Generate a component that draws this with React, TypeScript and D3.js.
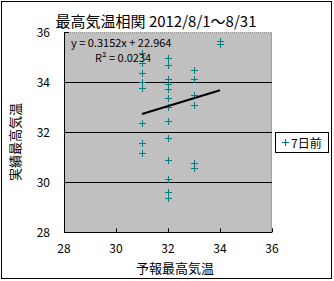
import React from "react";
import * as d3 from "d3";

const title = "最高気温相関 2012/8/1～8/31";
const xTitle = "予報最高気温";
const yTitle = "実績最高気温";
const seriesName = "7日前";
const forecast = [
  31, 31, 31, 31, 31, 31, 31, 31,
  32, 32, 32, 32, 32, 32, 32, 32, 32, 32, 32, 32, 32,
  33, 33, 33, 33, 33, 33,
  34, 34,
];
const actual = [
  35.16, 34.78, 34.38, 34.01, 33.78, 32.36, 31.56, 31.16,
  34.98, 34.68, 34.15, 33.94, 33.72, 33.36, 33.02, 32.47, 31.76, 30.88, 30.15, 29.61, 29.39,
  34.49, 34.13, 33.49, 33.09, 30.78, 30.56,
  35.66, 35.53,
];
const slope = 0.3152;
const intercept = 22.964;
const r2 = 0.0234;
const xTicks = [28, 30, 32, 34, 36];
const yTicks = [28, 30, 32, 34, 36];
const gridValues = [30, 32, 34];

const W = 334;
const H = 281;
const FONT = "'Noto Sans CJK JP', 'DejaVu Sans', sans-serif";
const TEAL = "#008080";

export default function App() {
  const x = d3.scaleLinear().domain([28, 36]).range([64, 272]);
  const y = d3.scaleLinear().domain([28, 36]).range([232.3, 32.3]);
  const [x0, x1] = x.range();
  const [yb, yt] = y.range();
  const xMin = d3.min(forecast) as number;
  const xMax = d3.max(forecast) as number;
  const trend = d3.line<number>().x((v) => x(v)).y((v) => y(slope * v + intercept));
  const cross = (cx: number, cy: number) =>
    `M${cx - 3.5},${cy}H${cx + 3.5}M${cx},${cy - 3.5}V${cy + 3.5}`;

  return (
    <svg
      width={W}
      height={H}
      style={{ position: "fixed", left: 0, top: 0, background: "#fff" }}
      fontFamily={FONT}
    >
      <rect x={1.5} y={1.5} width={330} height={277} fill="#fff" stroke="#000" strokeWidth={1} />
      <text x={156} y={27} textAnchor="middle" fontSize={15} fill="#000">
        {title}
      </text>
      {/* plot area */}
      <rect x={x0} y={yt} width={x1 - x0} height={yb - yt} fill="#c0c0c0" />
      <path
        d={`M${x0},${yt + 0.5}H${x1 - 0.5}V${yb}`}
        fill="none"
        stroke="#808080"
        strokeDasharray="1,1"
      />
      {gridValues.map((v) => (
        <line key={"g" + v} x1={x0} x2={x1} y1={Math.round(y(v)) + 0.5} y2={Math.round(y(v)) + 0.5} stroke="#000" />
      ))}
      <line x1={x0 + 0.5} x2={x0 + 0.5} y1={yt} y2={yb} stroke="#000" />
      <line x1={x0} x2={x1} y1={Math.round(yb) + 0.5} y2={Math.round(yb) + 0.5} stroke="#000" />
      {xTicks.map((v) => (
        <g key={"xt" + v}>
          <line x1={Math.round(x(v)) + 0.5} x2={Math.round(x(v)) + 0.5} y1={yb - 4} y2={yb} stroke="#000" />
          <text x={x(v)} y={253} textAnchor="middle" fontSize={12} fill="#000">
            {v}
          </text>
        </g>
      ))}
      {yTicks.map((v) => (
        <g key={"yt" + v}>
          <line x1={x0} x2={x0 + 5} y1={Math.round(y(v)) + 0.5} y2={Math.round(y(v)) + 0.5} stroke="#000" />
          <text x={50} y={y(v) + 4.5} textAnchor="end" fontSize={12} fill="#000">
            {v}
          </text>
        </g>
      ))}
      {/* points */}
      {forecast.map((f, i) => (
        <path key={"p" + i} d={cross(Math.round(x(f)) + 0.5, Math.round(y(actual[i])) + 0.5)} stroke={TEAL} strokeWidth={1} fill="none" />
      ))}
      {/* trendline */}
      <path d={trend([xMin, xMax]) ?? ""} stroke="#000" strokeWidth={2} fill="none" />
      <text x={71} y={47} fontSize={11} fill="#000">
        {`y = ${slope}x + ${intercept}`}
      </text>
      <text x={95} y={62} fontSize={11} fill="#000">
        {`R² = ${r2}`}
      </text>
      {/* axis titles */}
      <text x={175} y={273} textAnchor="middle" fontSize={13} fill="#000">
        {xTitle}
      </text>
      <text
        transform={`translate(20,142) rotate(-90)`}
        textAnchor="middle"
        fontSize={13}
        fill="#000"
      >
        {yTitle}
      </text>
      {/* legend */}
      <rect x={275.5} y={132.5} width={53} height={20} fill="#fff" stroke="#000" />
      <path d={cross(285.5, 142.5)} stroke={TEAL} strokeWidth={1.2} fill="none" />
      <text x={291} y={147.5} fontSize={12} fill="#000">
        {seriesName}
      </text>
    </svg>
  );
}
